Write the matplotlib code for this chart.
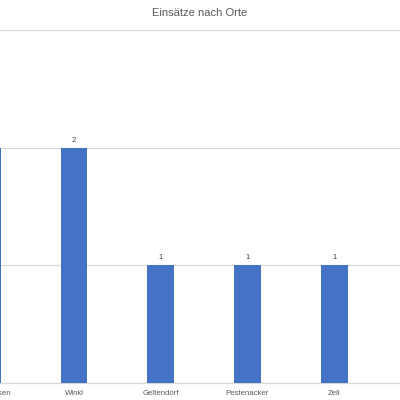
import matplotlib.pyplot as plt

# Einsätze pro Ort
orte = ['Walleshausen', 'Winkl', 'Geltendorf', 'Pestenacker', 'Zell']
einsaetze = [2, 2, 1, 1, 1]

plt.rcParams['font.family'] = ['Liberation Sans', 'DejaVu Sans']

fig = plt.figure(figsize=(4, 4), dpi=100)
# Achse ragt links über das Bild hinaus (Ausschnitt wie im Original)
ax = fig.add_axes([-0.1, 0.0425, 1.1, 0.8825])

x = range(len(orte))
bars = ax.bar(x, einsaetze, width=0.31, color='#4472C4', zorder=3)
ax.bar_label(bars, padding=3, fontsize=5.5, color='#404040')

ax.set_yticks([0, 1, 2, 3])
ax.set_yticklabels([])
ax.set_xticks(list(x))
ax.set_xticklabels(orte, fontsize=5.6, color='#595959')
ax.set_xlim(-0.315, 4.76)
ax.set_ylim(0, 3)
ax.tick_params(axis='both', length=0, pad=5)
ax.grid(axis='y', color='#d9d9d9', linewidth=0.9, zorder=0)
for s in ['left', 'right', 'top']:
    ax.spines[s].set_visible(False)
ax.spines['bottom'].set_color('#d9d9d9')
ax.spines['bottom'].set_linewidth(0.9)

fig.text(0.5, 0.967, 'Einsätze nach Orte', ha='center', va='center',
         fontsize=8, color='#595959')

fig.savefig('out.png', dpi=100)
